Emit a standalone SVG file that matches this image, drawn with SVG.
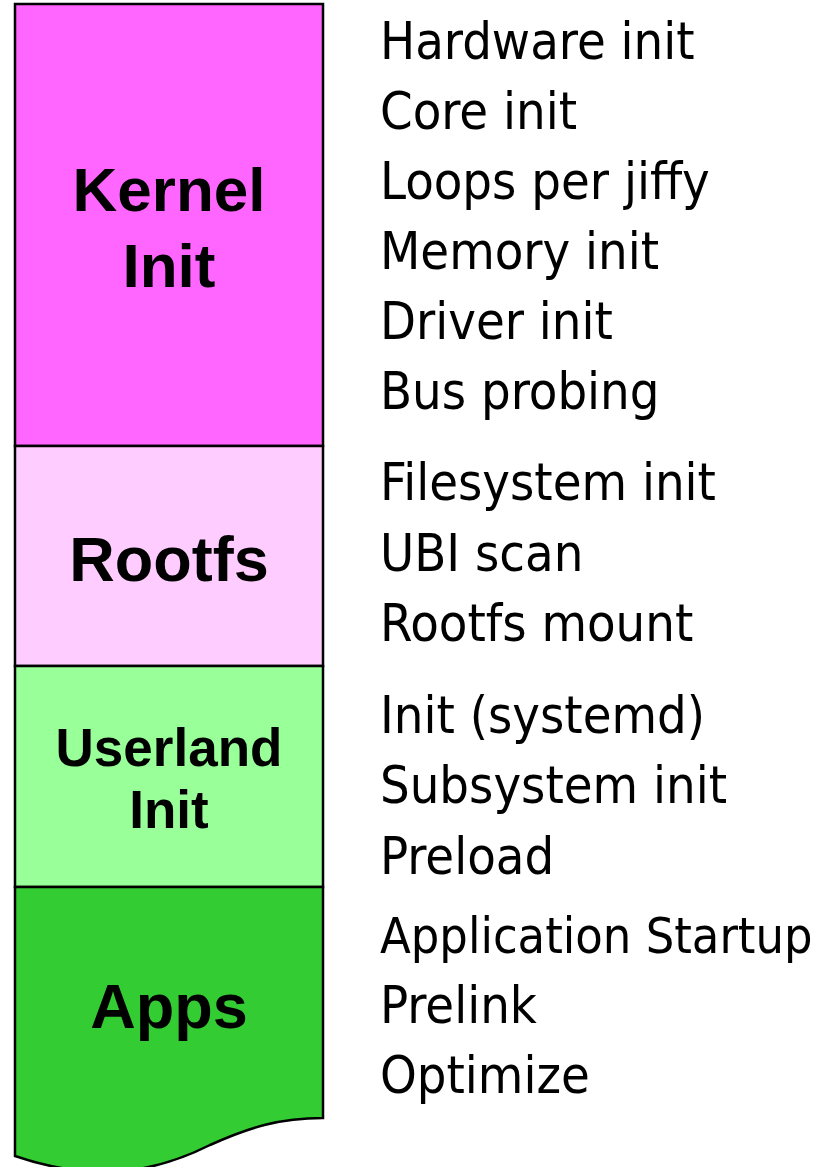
<svg xmlns="http://www.w3.org/2000/svg" width="827" height="1167" viewBox="0 0 827 1167">
<style>
.box{stroke:#000;stroke-width:2.5}
.title{font-family:"Liberation Sans",Arial,sans-serif;font-weight:bold;fill:#000;text-anchor:middle}
.item{font-family:"DejaVu Sans Condensed","DejaVu Sans",sans-serif;font-size:52px;fill:#000}
</style>
<rect width="827" height="1167" fill="#fff"/>
<g id="kernel">
<rect class="box" x="15" y="4" width="308" height="442" fill="#FF66FF"/>
<text class="title" x="169" y="211" font-size="62">Kernel</text>
<text class="title" x="169" y="287" font-size="62">Init</text>
<text class="item" x="380" y="59">Hardware init</text>
<text class="item" x="380" y="129">Core init</text>
<text class="item" x="380" y="199">Loops per jiffy</text>
<text class="item" x="380" y="269">Memory init</text>
<text class="item" x="380" y="339">Driver init</text>
<text class="item" x="380" y="409">Bus probing</text>
</g>
<g id="rootfs">
<rect class="box" x="15" y="446" width="308" height="220" fill="#FFCCFF"/>
<text class="title" x="169" y="581" font-size="63">Rootfs</text>
<text class="item" x="380" y="500">Filesystem init</text>
<text class="item" x="380" y="571">UBI scan</text>
<text class="item" x="380" y="641">Rootfs mount</text>
</g>
<g id="userland">
<rect class="box" x="15" y="666" width="308" height="221" fill="#99FF99"/>
<text class="title" x="169" y="766" font-size="53">Userland</text>
<text class="title" x="169" y="828" font-size="53">Init</text>
<text class="item" x="380" y="733">Init (systemd)</text>
<text class="item" x="380" y="803">Subsystem init</text>
<text class="item" x="380" y="874">Preload</text>
</g>
<g id="apps">
<path class="box" d="M15,887 H323 V1118 C280,1118 250,1127 210,1145 C160,1170 100,1185 15,1156 Z" fill="#33CC33"/>
<text class="title" x="169" y="1028" font-size="63">Apps</text>
<text class="item" x="380" y="953" style="font-size:50px">Application Startup</text>
<text class="item" x="380" y="1023">Prelink</text>
<text class="item" x="380" y="1093">Optimize</text>
</g>
<g id="connectors"/>
</svg>
